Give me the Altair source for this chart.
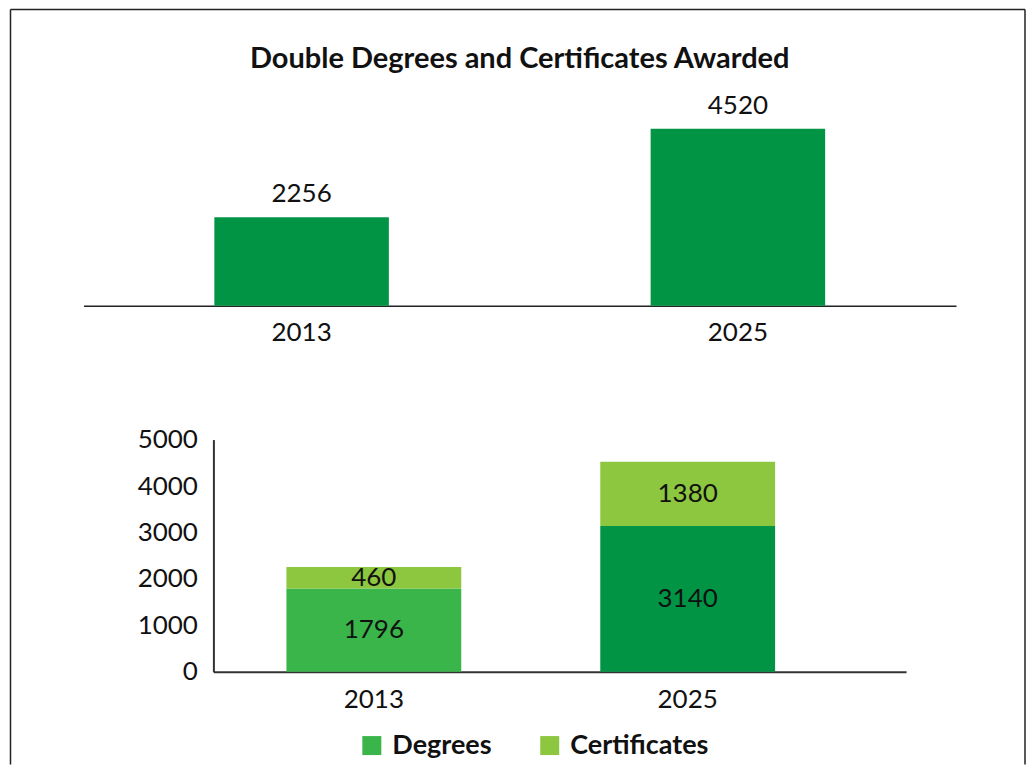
import altair as alt
import pandas as pd

# ---- data ----
years = ["2013", "2025"]
totals = [2256, 4520]
series = ["Degrees", "Certificates"]
degrees = [1796, 3140]
certificates = [460, 1380]
title_text = "Double Degrees and Certificates Awarded"

FONT = "Lato"
TXT = "#111111"

top_df = pd.DataFrame({"year": years, "total": totals})

rows = []
for i, y in enumerate(years):
    start = 0
    for s, vals in zip(series, [degrees, certificates]):
        v = vals[i]
        rows.append({"year": y, "series": s, "value": v, "start": start,
                     "end": start + v, "mid": start + v / 2})
        start += v
bot_df = pd.DataFrame(rows)

# ---- top chart ----
top_x = alt.X("year:N",
              scale=alt.Scale(paddingInner=0.6, paddingOuter=0.3),
              axis=alt.Axis(title=None, labelAngle=0, ticks=False,
                            domainColor="#222222", domainWidth=1.5,
                            labelFontSize=26, labelPadding=14, labelColor=TXT,
                            labelFont=FONT))
top_y = alt.Y("total:Q", scale=alt.Scale(domain=[0, 5630], nice=False), axis=None)

top_bars = alt.Chart(top_df).mark_bar(color="#009444").encode(x=top_x, y=top_y)
top_text = alt.Chart(top_df).mark_text(fontSize=26, font=FONT, color=TXT,
                                       baseline="alphabetic", dy=-15).encode(
    x=top_x, y=top_y, text="total:Q")

top = alt.layer(top_bars, top_text).properties(
    width=873, height=220.7,
    title=alt.TitleParams(title_text, fontSize=29, font=FONT, fontWeight="bold",
                          anchor="middle", offset=11, color=TXT))

# ---- bottom chart ----
bot_x = alt.X("year:N",
              scale=alt.Scale(range=[130, 823], paddingInner=0.443,
                              paddingOuter=0.325, align=0.358),
              axis=alt.Axis(title=None, labelAngle=0, ticks=False,
                            domainColor="#333333", domainWidth=2,
                            labelFontSize=26, labelPadding=15, labelColor=TXT,
                            labelFont=FONT))
bot_y = alt.Y("start:Q", scale=alt.Scale(domain=[0, 5000], nice=False),
              axis=alt.Axis(title=None, values=[0, 1000, 2000, 3000, 4000, 5000],
                            format="d", ticks=False, grid=False, labelFontSize=26,
                            labelPadding=16, labelColor=TXT, labelFont=FONT,
                            domainColor="#333333", domainWidth=2, offset=-130))

color = alt.condition(
    "datum.year == '2025' && datum.series == 'Degrees'",
    alt.value("#009444"),
    alt.Color("series:N",
              scale=alt.Scale(domain=series, range=["#39b54a", "#8dc63f"]),
              legend=alt.Legend(title=None, orient="none", legendX=275, legendY=647,
                                direction="horizontal", symbolType="square",
                                symbolSize=361, symbolStrokeWidth=0,
                                symbolOpacity=1, labelFontSize=27,
                                labelFont=FONT, labelFontWeight="bold",
                                labelColor=TXT, labelOffset=7,
                                columnPadding=44, padding=0)))

bot_bars = alt.Chart(bot_df).mark_bar().encode(
    x=bot_x, y=bot_y, y2="end:Q", color=color)
bot_text = alt.Chart(bot_df).mark_text(fontSize=26, font=FONT, color=TXT).encode(
    x=bot_x, y=alt.Y("mid:Q", scale=alt.Scale(domain=[0, 5000], nice=False)),
    text="value:Q")

one = pd.DataFrame({"k": [0]})
frame_style = dict(color="#222222", strokeWidth=1.5)
frame_top = alt.Chart(one).mark_rule(**frame_style).encode(
    x=alt.value(-73), x2=alt.value(942), y=alt.value(-430.3))
frame_left = alt.Chart(one).mark_rule(**frame_style).encode(
    x=alt.value(-73), y=alt.value(-430.3), y2=alt.value(325))
frame_right = alt.Chart(one).mark_rule(**frame_style).encode(
    x=alt.value(942), y=alt.value(-430.3), y2=alt.value(325))

bottom = alt.layer(bot_bars, bot_text, frame_top, frame_left, frame_right).properties(
    width=823, height=232.4)

chart = alt.vconcat(top, bottom, spacing=133.6, bounds="flush").properties(
    padding={"left": 1.5, "top": 0, "right": 0, "bottom": 0},
    background="white",
).configure(font=FONT).configure_view(strokeWidth=0, stroke="transparent")

chart.save("out.html", embed_options={"renderer": "svg", "actions": False})
